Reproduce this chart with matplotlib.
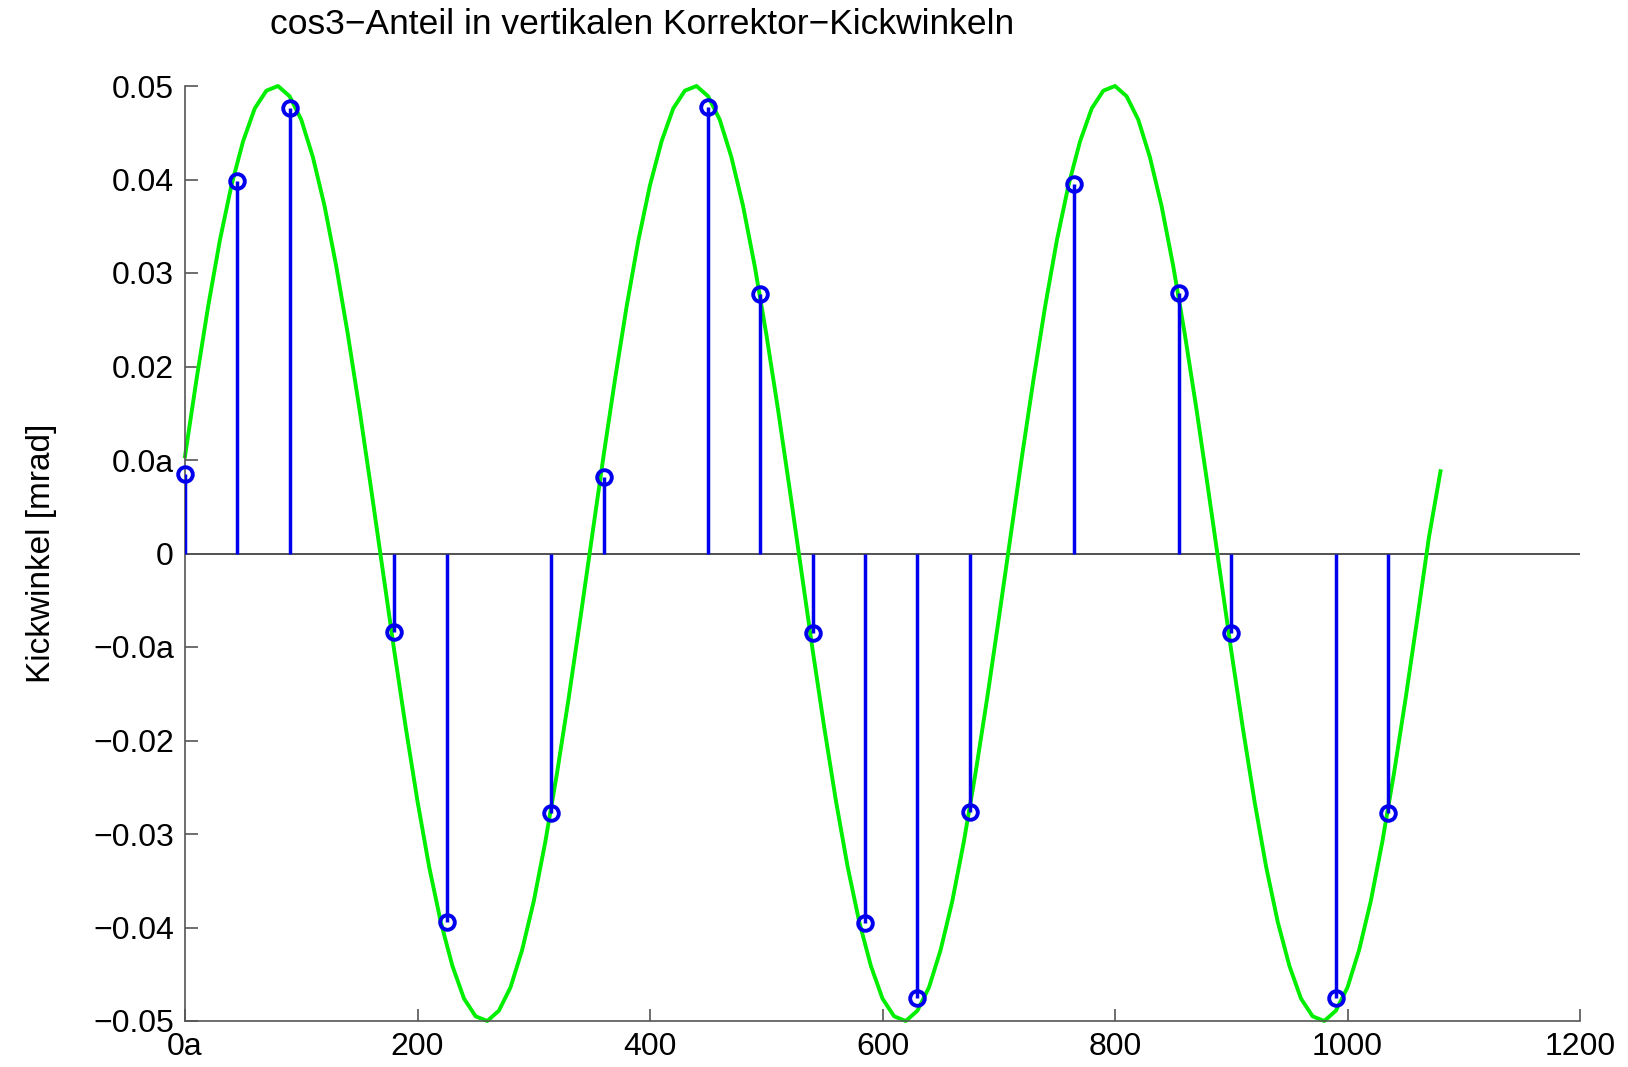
import numpy as np
import matplotlib
matplotlib.use('Agg')
import matplotlib.pyplot as plt

plt.rcParams['font.family'] = ['Liberation Sans', 'DejaVu Sans']

# kick angles at the corrector positions (blue stems)
kick_pos = [0, 45, 90, 180, 225, 315, 360, 450, 495, 540, 585, 630, 675,
            765, 855, 900, 990, 1035]
kick_val = [0.0085, 0.0398, 0.0476, -0.0084, -0.0394, -0.0278, 0.0082,
            0.0478, 0.0278, -0.0085, -0.0395, -0.0475, -0.0277, 0.0395,
            0.0279, -0.0085, -0.0475, -0.0278]

# green cos3 curve, read every 10 units
curve_x = list(range(0, 1090, 10))
curve_y = [0.0104, 0.0187, 0.0265, 0.0335, 0.0394, 0.0441, 0.0476, 0.0495,
           0.0500, 0.0489, 0.0464, 0.0424, 0.0372, 0.0308, 0.0235, 0.0155,
           0.0070, -0.0017, -0.0104, -0.0187, -0.0265, -0.0335, -0.0394,
           -0.0441, -0.0476, -0.0495, -0.0500, -0.0489, -0.0464, -0.0424,
           -0.0372, -0.0308, -0.0235, -0.0155, -0.0070, 0.0017,
           0.0104, 0.0187, 0.0265, 0.0335, 0.0394, 0.0441, 0.0476, 0.0495,
           0.0500, 0.0489, 0.0464, 0.0424, 0.0372, 0.0308, 0.0235, 0.0155,
           0.0070, -0.0017, -0.0104, -0.0187, -0.0265, -0.0335, -0.0394,
           -0.0441, -0.0476, -0.0495, -0.0500, -0.0489, -0.0464, -0.0424,
           -0.0372, -0.0308, -0.0235, -0.0155, -0.0070, 0.0017,
           0.0104, 0.0187, 0.0265, 0.0335, 0.0394, 0.0441, 0.0476, 0.0495,
           0.0500, 0.0489, 0.0464, 0.0424, 0.0372, 0.0308, 0.0235, 0.0155,
           0.0070, -0.0017, -0.0104, -0.0187, -0.0265, -0.0335, -0.0394,
           -0.0441, -0.0476, -0.0495, -0.0500, -0.0489, -0.0464, -0.0424,
           -0.0372, -0.0308, -0.0235, -0.0155, -0.0070, 0.0017, 0.0088]

xticks = [0, 200, 400, 600, 800, 1000, 1200]
xtick_labels = ['0a', '200', '400', '600', '800', '1000', '1200']
yticks = [0.05, 0.04, 0.03, 0.02, 0.01, 0, -0.01, -0.02, -0.03, -0.04, -0.05]
ytick_labels = ['0.05', '0.04', '0.03', '0.02', '0.0a', '0', '\u22120.0a',
                '\u22120.02', '\u22120.03', '\u22120.04', '\u22120.05']

fig = plt.figure(figsize=(16.28, 10.67), dpi=100)
ax = fig.add_axes([185/1628, 1 - 1021/1067, (1580 - 185)/1628, (1021 - 86)/1067])

ax.plot(curve_x, curve_y, color='#00ee00', lw=2.8, zorder=2, clip_on=False)
ax.axhline(0, color='#333333', lw=1.2, zorder=1)
ax.vlines(kick_pos, 0, kick_val, color='#0000ee', lw=2.5, zorder=3)
ax.plot(kick_pos, kick_val, 'o', ms=10.5, mfc='none', mec='#0000ee', mew=2.8,
        zorder=4, clip_on=False)

ax.set_xlim(0, 1200)
ax.set_ylim(-0.05, 0.05)
ax.set_xticks(xticks)
ax.set_xticklabels(xtick_labels)
ax.set_yticks(yticks)
ax.set_yticklabels(ytick_labels)
ax.tick_params(direction='in', length=9, width=1.2, color='#555555',
               labelsize=23, pad=8)
for s in ['top', 'right']:
    ax.spines[s].set_visible(False)
for s in ['left', 'bottom']:
    ax.spines[s].set_color('#555555')
    ax.spines[s].set_linewidth(1.2)

ax.set_ylabel('Kickwinkel [mrad]', fontsize=24, labelpad=26)
fig.text(270/1628, 1 - 24/1067, 'cos3\u2212Anteil in vertikalen Korrektor\u2212Kickwinkeln',
         fontsize=25.5, ha='left', va='center')

fig.savefig('out.png', dpi=100)
